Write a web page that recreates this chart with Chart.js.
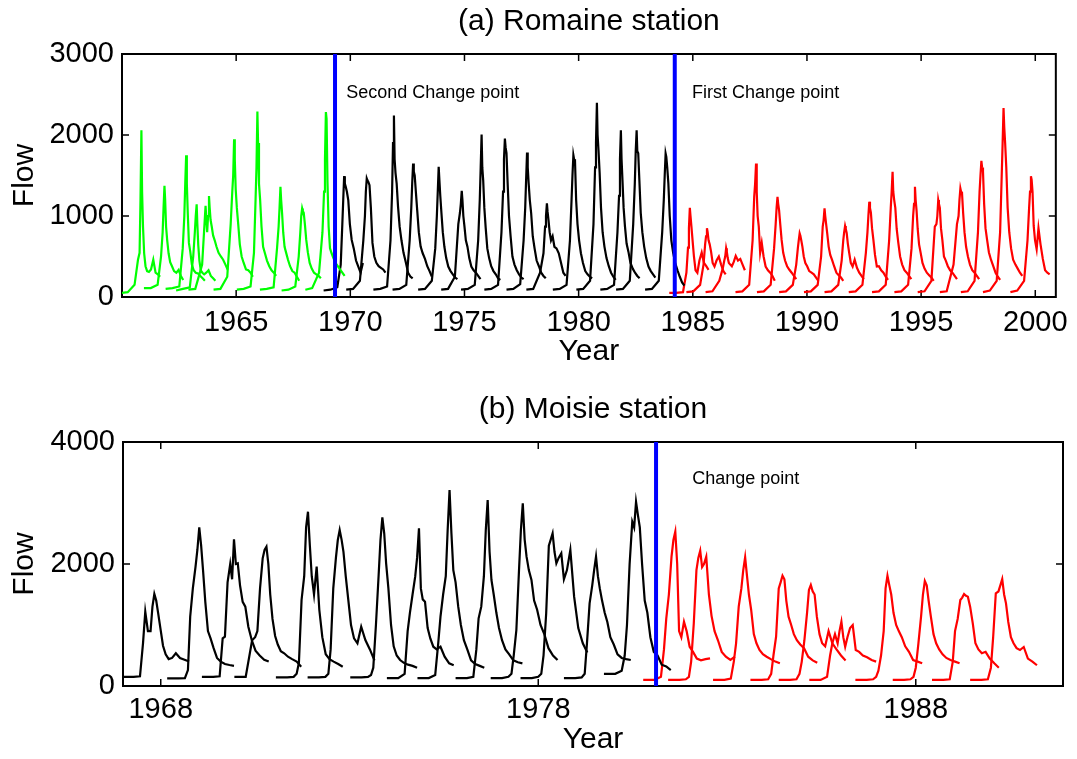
<!DOCTYPE html>
<html>
<head>
<meta charset="utf-8">
<script src="https://cdn.jsdelivr.net/npm/chart.js@4.4.1/dist/chart.umd.min.js"></script>
<style>
  body { margin: 0; background: #fff; }
  canvas { position: absolute; left: 0; }
</style>
</head>
<body>
<canvas id="chart-romaine" width="1077" height="380" style="top:0px"></canvas>
<canvas id="chart-moisie" width="1077" height="379" style="top:380px"></canvas>
<script>
// ---- Romaine station: each year's hydrograph, sampled around its peak date
const romaineRel = [-0.9, -0.6, -0.3, -0.15, -0.08, -0.04, 0, 0.03, 0.07, 0.12, 0.18, 0.25, 0.33, 0.42, 0.52, 0.62, 0.72, 0.82];

const romaineGreenPeaks = [1960.85, 1961.86, 1962.81, 1963.27, 1963.81, 1964.91, 1965.93, 1966.94, 1967.89, 1968.93];
const romaineGreen = [
  [50, 60, 150, 460, 545, 1200, 2058, 1300, 870, 540, 380, 320, 310, 340, 460, 300, 280, 250],
  [110, 110, 150, 500, 800, 1100, 1373, 1200, 870, 700, 540, 430, 380, 320, 300, 335, 260, 210],
  [100, 110, 130, 600, 1000, 1400, 1750, 1400, 1037, 668, 560, 400, 330, 300, 290, 260, 230, 200],
  [80, 100, 120, 500, 800, 1000, 1144, 900, 640, 450, 330, 300, 280, 300, 330, 260, 230, 200],
  [90, 100, 400, 1127, 800, 1000, 1246, 1100, 950, 870, 760, 700, 620, 545, 500, 460, 400, 336],
  [90, 100, 250, 900, 1300, 1500, 1947, 1700, 1330, 1100, 900, 650, 500, 420, 340, 330, 300, 250],
  [90, 100, 130, 545, 1200, 1600, 2291, 1900, 1400, 1200, 870, 620, 540, 450, 380, 330, 300, 260],
  [90, 100, 120, 600, 870, 1100, 1360, 1200, 1040, 800, 620, 545, 460, 380, 320, 300, 250, 200],
  [80, 90, 130, 500, 800, 1000, 1094, 1060, 1040, 900, 705, 550, 420, 350, 300, 280, 260, 230],
  [90, 110, 300, 800, 1300, 1700, 2283, 2200, 1420, 870, 600, 540, 480, 420, 380, 340, 300, 260]
];

const romaineBlackPeaks = [1969.73, 1970.72, 1971.91, 1972.75, 1973.87, 1974.88, 1975.75, 1976.77, 1977.74, 1978.61, 1979.77, 1980.80, 1981.85, 1982.54, 1983.81];
const romaineBlack = [
  [80, 90, 120, 400, 900, 1200, 1492, 1400, 1360, 1300, 1197, 900, 705, 600, 450, 376, 300, 420],
  [90, 100, 200, 700, 1000, 1300, 1463, 1440, 1420, 1380, 1100, 668, 500, 422, 380, 360, 340, 300],
  [90, 100, 130, 700, 1300, 1900, 2242, 1700, 1530, 1400, 1115, 868, 700, 545, 430, 300, 253, 230],
  [90, 100, 150, 700, 1100, 1400, 1648, 1550, 1500, 1300, 1070, 800, 622, 540, 470, 380, 320, 253],
  [90, 100, 200, 600, 1000, 1300, 1607, 1450, 1250, 1040, 800, 620, 480, 376, 320, 280, 240, 220],
  [90, 100, 250, 900, 1037, 1150, 1311, 1200, 1000, 868, 700, 622, 480, 376, 330, 300, 260, 220],
  [90, 100, 150, 700, 1200, 1600, 2005, 1600, 1440, 1100, 850, 600, 480, 380, 320, 280, 230, 210],
  [90, 100, 150, 800, 1300, 1700, 1955, 1850, 1775, 1406, 1000, 750, 500, 400, 330, 280, 240, 220],
  [90, 100, 160, 700, 1100, 1450, 1783, 1600, 1406, 1200, 1037, 750, 600, 450, 380, 300, 260, 230],
  [90, 100, 300, 540, 870, 1000, 1156, 1050, 950, 800, 700, 750, 620, 600, 540, 420, 300, 260],
  [90, 100, 150, 700, 1200, 1500, 1750, 1700, 1689, 1200, 900, 700, 540, 420, 320, 280, 250, 230],
  [90, 100, 200, 900, 1600, 1900, 2398, 2000, 1812, 1530, 1100, 800, 622, 480, 380, 300, 250, 210],
  [90, 100, 150, 800, 1250, 1700, 2058, 1700, 1440, 1100, 868, 660, 560, 420, 350, 300, 260, 230],
  [90, 100, 200, 900, 1400, 1800, 2058, 1800, 1775, 1440, 1037, 800, 622, 480, 376, 320, 280, 240],
  [90, 100, 200, 800, 1200, 1500, 1771, 1730, 1600, 1400, 1000, 700, 545, 420, 330, 250, 180, 140]
];

const romaineRedPeaks = [1984.87, 1985.62, 1986.46, 1987.77, 1988.71, 1989.68, 1990.77, 1991.67, 1992.73, 1993.75, 1994.73, 1995.75, 1996.72, 1997.64, 1998.61, 1999.81];
const romaineRed = [
  [50, 50, 60, 300, 610, 850, 1102, 1000, 868, 700, 500, 330, 300, 450, 550, 420, 380, 336],
  [60, 70, 150, 400, 650, 750, 848, 800, 700, 650, 560, 420, 376, 450, 500, 400, 320, 280],
  [60, 70, 200, 350, 450, 500, 603, 560, 480, 420, 400, 380, 430, 508, 450, 470, 400, 330],
  [60, 70, 150, 700, 1240, 1400, 1648, 1300, 1000, 868, 545, 668, 500, 376, 330, 300, 260, 200],
  [60, 70, 150, 600, 900, 1100, 1237, 1150, 1070, 900, 705, 545, 450, 380, 336, 300, 260, 220],
  [60, 70, 150, 400, 600, 700, 787, 760, 700, 622, 500, 420, 380, 320, 300, 280, 240, 200],
  [60, 70, 150, 500, 870, 950, 1094, 1000, 900, 780, 622, 520, 459, 380, 300, 270, 240, 200],
  [60, 70, 150, 450, 700, 800, 877, 840, 790, 660, 545, 420, 376, 460, 360, 300, 260, 220],
  [60, 70, 150, 545, 800, 1000, 1176, 1100, 1040, 850, 705, 520, 376, 380, 330, 300, 250, 210],
  [60, 70, 150, 700, 1100, 1300, 1545, 1300, 1200, 1100, 840, 670, 500, 400, 330, 300, 260, 220],
  [60, 70, 150, 600, 1000, 1150, 1360, 1200, 1070, 840, 650, 545, 420, 350, 300, 270, 240, 200],
  [60, 70, 200, 870, 900, 1000, 1197, 1150, 1100, 850, 705, 500, 450, 380, 330, 300, 260, 220],
  [60, 70, 400, 900, 1000, 1200, 1340, 1300, 1290, 1040, 800, 620, 500, 400, 330, 300, 260, 220],
  [60, 70, 200, 800, 1300, 1500, 1680, 1600, 1550, 1150, 850, 705, 550, 460, 380, 300, 250, 210],
  [60, 80, 200, 800, 1500, 1900, 2332, 2100, 1900, 1600, 1100, 800, 600, 460, 400, 350, 300, 260],
  [60, 80, 200, 700, 1100, 1300, 1492, 1450, 1300, 880, 700, 590, 850, 650, 470, 330, 300, 280]
];

const romaineChanges = [1969.33, 1984.21];
const romaineNotes = ['Second Change point', 'First Change point'];
const romaineXTicks = [1965, 1970, 1975, 1980, 1985, 1990, 1995, 2000];
const romaineYTicks = [0, 1000, 2000, 3000];

// ---- Moisie station
const moisieRel = [-0.85, -0.55, -0.38, -0.3, -0.24, -0.17, -0.1, -0.05, 0, 0.05, 0.1, 0.16, 0.23, 0.3, 0.38, 0.47, 0.57, 0.68, 0.8, 0.92];

const moisieBlackPeaks = [1967.83, 1969.02, 1969.94, 1970.80, 1971.90, 1972.74, 1973.87, 1974.84, 1975.65, 1976.66, 1977.59, 1978.38, 1979.53, 1980.59];
const moisieBlack = [
  [150, 150, 160, 700, 1218, 900, 900, 1300, 1508, 1400, 1200, 950, 660, 520, 440, 460, 536, 459, 430, 400],
  [126, 126, 130, 262, 1136, 1600, 1950, 2230, 2600, 2300, 1900, 1380, 900, 780, 620, 460, 400, 360, 344, 330],
  [150, 150, 160, 780, 808, 1700, 2000, 1750, 2405, 2000, 2011, 1650, 1380, 1300, 972, 754, 580, 500, 430, 400],
  [150, 150, 750, 800, 900, 1600, 2093, 2230, 2284, 2000, 1500, 1100, 820, 680, 570, 536, 480, 440, 400, 316],
  [140, 140, 150, 200, 380, 1410, 1800, 2600, 2857, 2300, 1800, 1500, 1956, 1250, 800, 520, 440, 400, 360, 316],
  [140, 140, 150, 200, 600, 1600, 2100, 2393, 2557, 2400, 2200, 1800, 1400, 1000, 780, 700, 972, 754, 600, 420],
  [140, 140, 150, 180, 300, 1000, 1800, 2393, 2765, 2500, 2011, 1600, 1000, 650, 500, 426, 380, 350, 330, 300],
  [130, 130, 200, 900, 1200, 1500, 1792, 2100, 2585, 1600, 1420, 1382, 950, 780, 644, 600, 644, 480, 372, 340],
  [130, 130, 180, 700, 1136, 1500, 1800, 2557, 3213, 2500, 1900, 1700, 1300, 1000, 750, 600, 420, 360, 330, 300],
  [130, 130, 150, 600, 1110, 1300, 1800, 2557, 3050, 2200, 1738, 1500, 1200, 950, 750, 600, 520, 420, 390, 372],
  [130, 130, 150, 200, 500, 918, 1900, 2557, 2995, 2400, 2120, 1900, 1738, 1400, 1250, 1000, 850, 620, 500, 426],
  [130, 130, 150, 200, 500, 1192, 2300, 2400, 2503, 2200, 2011, 2100, 2175, 1750, 1900, 2230, 1464, 950, 700, 550],
  [130, 130, 140, 200, 700, 1355, 1650, 1900, 2120, 1800, 1600, 1400, 1200, 1050, 800, 680, 520, 460, 440, 426],
  [200, 200, 250, 500, 1000, 2000, 2693, 2600, 3020, 2800, 2600, 2000, 1400, 1200, 800, 560, 500, 350, 320, 262]
];

const moisieRedPeaks = [1981.63, 1982.29, 1983.48, 1984.47, 1985.22, 1986.03, 1987.25, 1988.24, 1989.28, 1990.29];
const moisieRed = [
  [100, 100, 150, 600, 1100, 1500, 2120, 2393, 2530, 2000, 900, 800, 1054, 900, 644, 560, 450, 420, 440, 454],
  [100, 100, 110, 150, 400, 1028, 1900, 2100, 2218, 1950, 2000, 2120, 1500, 1150, 900, 750, 560, 480, 426, 480],
  [100, 100, 120, 400, 700, 1300, 1600, 1900, 2110, 1800, 1500, 1246, 850, 700, 590, 520, 480, 440, 400, 372],
  [100, 100, 110, 200, 500, 808, 1600, 1700, 1808, 1750, 1400, 1136, 1000, 850, 750, 680, 620, 480, 420, 380],
  [100, 100, 110, 200, 400, 750, 1200, 1574, 1656, 1550, 1500, 1136, 850, 700, 650, 900, 700, 600, 500, 420],
  [100, 100, 150, 500, 700, 850, 700, 900, 1054, 800, 644, 800, 950, 1000, 590, 560, 500, 470, 426, 400],
  [100, 100, 110, 150, 250, 500, 900, 1600, 1808, 1650, 1500, 1200, 1000, 900, 800, 650, 560, 426, 400, 372],
  [100, 100, 110, 150, 300, 700, 1136, 1500, 1720, 1650, 1400, 1136, 850, 700, 600, 520, 460, 426, 400, 372],
  [100, 100, 110, 400, 900, 1100, 1410, 1450, 1508, 1480, 1465, 1300, 1028, 700, 600, 536, 560, 450, 372, 300],
  [100, 100, 110, 300, 800, 1520, 1550, 1650, 1754, 1500, 1355, 1050, 800, 700, 620, 590, 640, 450, 400, 340]
];

const moisieChanges = [1981.12];
const moisieNotes = ['Change point'];
const moisieXTicks = [1968, 1978, 1988];
const moisieYTicks = [0, 2000, 4000];

const FONT = "'Liberation Sans', Arial, Helvetica, sans-serif";

function hydrographs(peaks, flows, rel, color) {
    return peaks.map((p, k) => ({
        data: rel.map((r, i) => ({ x: p + r, y: flows[k][i] })),
        borderColor: color,
        borderWidth: 2.2,
        pointRadius: 0,
        tension: 0,
        fill: false
    }));
}

function changeLines(changes, ymax) {
    return changes.map(c => ({
        data: [{ x: c, y: 0 }, { x: c, y: ymax }],
        borderColor: '#0000ff',
        borderWidth: 4,
        pointRadius: 0,
        order: -1
    }));
}

// box round the plot with inward ticks, plus the change point notes
function framePlugin(notes, notePos) {
    return {
        id: 'frame',
        beforeDatasetsDraw(chart) {
            const { ctx, chartArea: a, scales: { x, y } } = chart;
            ctx.save();
            ctx.strokeStyle = '#000';
            ctx.lineWidth = 2;
            ctx.strokeRect(a.left, a.top, a.right - a.left, a.bottom - a.top);
            ctx.lineWidth = 1.5;
            ctx.beginPath();
            x.ticks.forEach(t => {
                const px = x.getPixelForValue(t.value);
                ctx.moveTo(px, a.bottom); ctx.lineTo(px, a.bottom - 7);
                ctx.moveTo(px, a.top); ctx.lineTo(px, a.top + 7);
            });
            y.ticks.forEach(t => {
                const py = y.getPixelForValue(t.value);
                ctx.moveTo(a.left, py); ctx.lineTo(a.left + 7, py);
                ctx.moveTo(a.right, py); ctx.lineTo(a.right - 7, py);
            });
            ctx.stroke();
            ctx.restore();
        },
        afterDatasetsDraw(chart) {
            const { ctx, scales: { x, y } } = chart;
            ctx.save();
            ctx.fillStyle = '#000';
            ctx.font = '18px ' + FONT;
            ctx.textAlign = 'left';
            ctx.textBaseline = 'middle';
            notes.forEach((txt, i) => {
                ctx.fillText(txt, x.getPixelForValue(notePos[i][0]), y.getPixelForValue(notePos[i][1]));
            });
            ctx.restore();
        }
    };
}

function makeChart(id, opt) {
    const font = { family: FONT, size: 29 };
    return new Chart(document.getElementById(id), {
        type: 'line',
        data: { datasets: opt.datasets },
        options: {
            responsive: false,
            animation: false,
            layout: { padding: opt.padding },
            plugins: {
                legend: { display: false },
                tooltip: { enabled: false },
                title: {
                    display: true,
                    fullSize: false,
                    text: opt.title,
                    color: '#000',
                    font: { family: FONT, size: 30, weight: 'normal' },
                    padding: opt.titlePadding
                }
            },
            scales: {
                x: {
                    type: 'linear',
                    min: opt.xmin,
                    max: opt.xmax,
                    grid: { display: false, drawTicks: false },
                    border: { display: false },
                    ticks: {
                        color: '#000', font: font, padding: opt.xTickPad,
                        autoSkip: false, maxRotation: 0,
                        callback: v => String(v)
                    },
                    afterBuildTicks: s => { s.ticks = opt.xticks.map(v => ({ value: v })); },
                    afterFit: s => { s.height = opt.xHeight; },
                    title: { display: true, text: 'Year', color: '#000', font: { family: FONT, size: 30 }, padding: 0 }
                },
                y: {
                    min: 0,
                    max: opt.ymax,
                    grid: { display: false, drawTicks: false },
                    border: { display: false },
                    ticks: { color: '#000', font: font, padding: 8, callback: v => String(v) },
                    afterBuildTicks: s => { s.ticks = opt.yticks.map(v => ({ value: v })); },
                    afterFit: s => { s.width = opt.yWidth; },
                    title: { display: true, text: 'Flow', color: '#000', font: { family: FONT, size: 30 }, padding: { top: 7, bottom: 0 } }
                }
            }
        },
        plugins: [framePlugin(opt.notes, opt.notePos)]
    });
}

makeChart('chart-romaine', {
    title: '(a) Romaine station',
    datasets: [
        ...changeLines(romaineChanges, 3000),
        ...hydrographs(romaineGreenPeaks, romaineGreen, romaineRel, '#00ff00'),
        ...hydrographs(romaineBlackPeaks, romaineBlack, romaineRel, '#000000'),
        ...hydrographs(romaineRedPeaks, romaineRed, romaineRel, '#ff0000')
    ],
    xmin: 1960, xmax: 2000.9, ymax: 3000,
    xticks: romaineXTicks, yticks: romaineYTicks,
    padding: { left: 0, right: 16, top: 0, bottom: 10 },
    titlePadding: { top: 4, bottom: 14 },
    xHeight: 73, yWidth: 122, xTickPad: 9,
    notes: romaineNotes,
    notePos: [[1969.82, 2513], [1984.97, 2513]]
});

makeChart('chart-moisie', {
    title: '(b) Moisie station',
    datasets: [
        ...changeLines(moisieChanges, 4000),
        ...hydrographs(moisieBlackPeaks, moisieBlack, moisieRel, '#000000'),
        ...hydrographs(moisieRedPeaks, moisieRed, moisieRel, '#ff0000')
    ],
    xmin: 1967, xmax: 1991.9, ymax: 4000,
    xticks: moisieXTicks, yticks: moisieYTicks,
    padding: { left: 0, right: 14, top: 0, bottom: 1 },
    titlePadding: { top: 12, bottom: 14 },
    xHeight: 72, yWidth: 123, xTickPad: 7,
    notes: moisieNotes,
    notePos: [[1982.08, 3393]]
});
</script>
</body>
</html>
